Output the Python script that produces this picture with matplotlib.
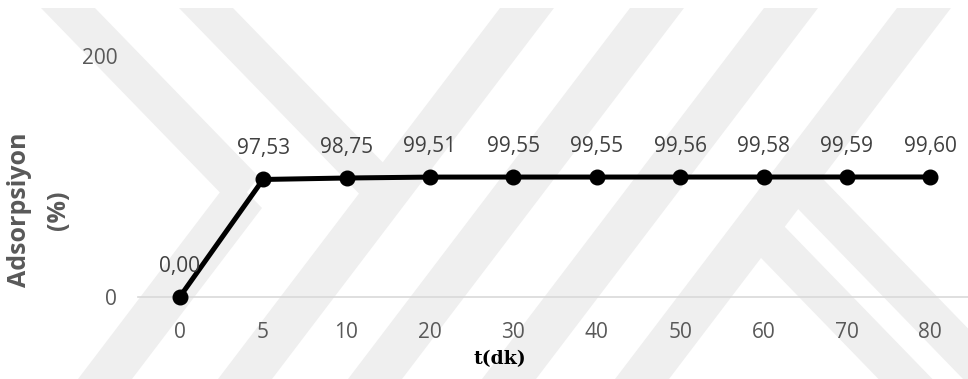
import matplotlib
matplotlib.use("Agg")
import matplotlib.pyplot as plt
from matplotlib.patches import Polygon

# Adsorption (%) versus contact time t (min)
times = ["0", "5", "10", "20", "30", "40", "50", "60", "70", "80"]
adsorption = [0.00, 97.53, 98.75, 99.51, 99.55, 99.55, 99.56, 99.58, 99.59, 99.60]
value_labels = ["0,00", "97,53", "98,75", "99,51", "99,55", "99,55", "99,56", "99,58", "99,59", "99,60"]
y_ticks = [0, 200]

W, H = 968, 379
fig = plt.figure(figsize=(W / 100, H / 100), dpi=100)

# ---- faint diagonal stripe pattern in the page background (pixel coordinates) ----
bg = fig.add_axes([0, 0, 1, 1], zorder=-5)
bg.set_xlim(0, W)
bg.set_ylim(H, 0)
bg.axis("off")

BAND_W = 54
DOWN, UP = 0.97, -0.76      # dx/dy of "\" and "/" stripes
Y_TOP, Y_BOT = 8, 379


def edge_y(xa, ya, sa, off, cut):
    """y where a band edge meets a cut (a horizontal level or another centre line)."""
    if not isinstance(cut, tuple):
        return cut
    xc, yc, sc = cut
    return (xc - sc * yc - (xa + off) + sa * ya) / (sa - sc)


def band(xa, ya, sa, cut_a, cut_b, color="#efefef"):
    pts = []
    for off, cut in ((-BAND_W / 2, cut_a), (BAND_W / 2, cut_a), (BAND_W / 2, cut_b), (-BAND_W / 2, cut_b)):
        y = edge_y(xa, ya, sa, off, cut)
        pts.append((xa + off + sa * (y - ya), y))
    bg.add_patch(Polygon(pts, closed=True, facecolor=color, edgecolor="none"))


p1 = (527, Y_TOP, UP)
p4 = (924, Y_TOP, UP)
l1 = (105, Y_BOT, UP)
b1 = (68, Y_TOP, DOWN)

band(*b1, Y_TOP, l1)
band(*l1, Y_BOT, b1)
band(206, Y_TOP, DOWN, Y_TOP, p1)
for x_top in (527, 657, 791, 924):
    band(x_top, Y_TOP, UP, Y_TOP, Y_BOT)
band(758, 227, DOWN, p4, Y_BOT)
band(797, 180, DOWN, p4, Y_BOT)

# ---- main plot area ----
left, right, bottom_px, top_px = 138, 972, 297, 56
ax = fig.add_axes([left / W, (H - bottom_px) / H, (right - left) / W, (bottom_px - top_px) / H])
ax.patch.set_alpha(0)

xs = list(range(len(times)))
ax.plot(xs, adsorption, color="black", lw=3.6, marker="o", ms=10.5,
        clip_on=False, zorder=3, solid_joinstyle="round")

for x, y, lab in zip(xs, adsorption, value_labels):
    ax.annotate(lab, (x, y), xytext=(0, 18), textcoords="offset points",
                ha="center", va="baseline", fontsize=15, color="#404040",
                family="Open Sans")

ax.set_xlim(-0.5, len(times) - 0.5)
ax.set_ylim(0, 200)
ax.set_xticks(xs)
ax.set_xticklabels(times)
ax.set_yticks(y_ticks)
ax.set_yticklabels([str(t) for t in y_ticks])

for s in ["top", "right", "left"]:
    ax.spines[s].set_visible(False)
ax.spines["bottom"].set_color("#d9d9d9")
ax.spines["bottom"].set_linewidth(1.2)

ax.tick_params(axis="both", length=0, labelsize=15, labelcolor="#595959")
ax.tick_params(axis="x", pad=18)
ax.tick_params(axis="y", pad=15)
for lab in ax.get_xticklabels() + ax.get_yticklabels():
    lab.set_family("Open Sans")

# axis titles
fig.text(20 / W, 1 - 210 / H, "Adsorpsiyon", rotation=90, ha="center", va="center",
         fontsize=18, fontweight="bold", color="#595959", family="Open Sans")
fig.text(59 / W, 1 - 210 / H, "(%)", rotation=90, ha="center", va="center",
         fontsize=18, fontweight="bold", color="#595959", family="Open Sans")
fig.text(500 / W, 1 - 359 / H, "t(dk)", ha="center", va="center",
         fontsize=13.5, fontweight="bold", color="black", family="DejaVu Serif")

fig.savefig("out.png", dpi=100)
